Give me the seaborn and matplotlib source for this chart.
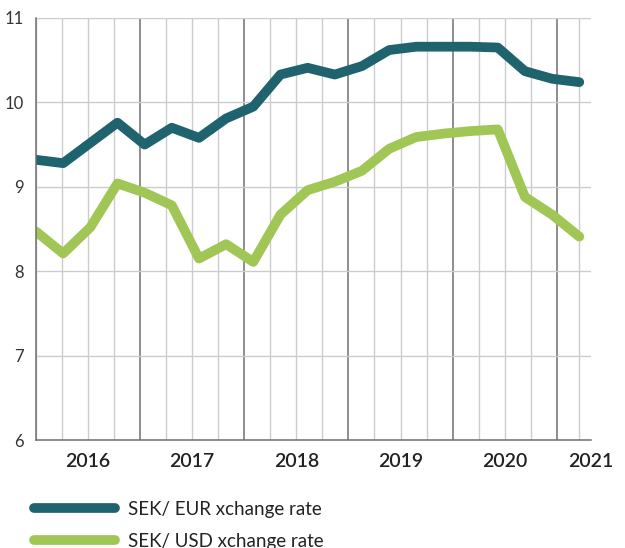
import matplotlib
matplotlib.use("Agg")
import matplotlib.pyplot as plt
import seaborn as sns
import pandas as pd
import numpy as np

sek_eur = [9.32, 9.28, 9.52, 9.76, 9.50, 9.70, 9.58, 9.81, 9.95, 10.33, 10.41,
           10.33, 10.43, 10.62, 10.66, 10.66, 10.66, 10.65, 10.37, 10.28, 10.24]
sek_usd = [8.47, 8.21, 8.52, 9.04, 8.93, 8.78, 8.15, 8.32, 8.11, 8.67, 8.96,
           9.06, 9.19, 9.45, 9.59, 9.63, 9.66, 9.68, 8.88, 8.67, 8.41]
series_names = ["SEK/ EUR xchange rate", "SEK/ USD xchange rate"]
year_labels = ["2016", "2017", "2018", "2019", "2020", "2021"]
y_ticks = [6, 7, 8, 9, 10, 11]

colors = ["#1F636E", "#A0C655"]

sns.set_theme(style="white")
plt.rcParams["font.family"] = ["Lato", "DejaVu Sans"]

n = len(sek_eur)
obs = list(range(n))
df = pd.DataFrame({
    "obs": obs * 2,
    "rate": sek_eur + sek_usd,
    "series": [series_names[0]] * n + [series_names[1]] * n,
})

fig = plt.figure(figsize=(6.25, 5.48), dpi=100)
ax = fig.add_axes([36 / 625, 1 - 440 / 548, (591 - 36) / 625, (440 - 18) / 548])

# grid: quarter spacing differs slightly from observation spacing in the reference
px_per_obs = (591 - 36) / (n - 1)
q = 26.6 / px_per_obs
for k in range(21):
    xv = k * q
    dark = (k % 4 == 0 and k > 0)
    ax.axvline(xv, color="#6f6f6f" if dark else "#cccccc", lw=1.1 if dark else 1.0, zorder=0)
ax.axvline(n - 1, color="#cccccc", lw=1.0, zorder=0)
for yv in y_ticks[1:]:
    ax.axhline(yv, color="#cccccc", lw=1.0, zorder=0)

sns.lineplot(data=df, x="obs", y="rate", hue="series", palette=colors,
             linewidth=7, ax=ax, legend=True, sort=False)

ax.set_xlim(0, n - 1)
ax.set_ylim(6, 11)
ax.set_yticks(y_ticks)
ax.set_yticklabels([str(t) for t in y_ticks], fontsize=12, color="#333333")
year_pos = [(2 + 4 * i) * q for i in range(5)] + [(603 - 36) / px_per_obs]
ax.set_xticks(year_pos)
ax.set_xticklabels(year_labels, fontsize=14, fontweight="semibold", color="#222222")
ax.tick_params(axis="x", length=0, pad=9.5)
ax.tick_params(axis="y", length=0, pad=9)
for lab in ax.get_xticklabels():
    lab.set_clip_on(False)
ax.set_xlabel("")
ax.set_ylabel("")

for s in ["top", "right"]:
    ax.spines[s].set_visible(False)
ax.spines["left"].set_color("#6f6f6f")
ax.spines["bottom"].set_color("#6f6f6f")
ax.spines["left"].set_linewidth(1.1)
ax.spines["bottom"].set_linewidth(1.1)

handles, labels = ax.get_legend_handles_labels()
ax.legend_.remove()
leg = fig.legend(handles, labels, loc="upper left",
                 bbox_to_anchor=(34 / 625, 1 - 501 / 548), frameon=False,
                 fontsize=13.5, handlelength=4.3, handletextpad=0.7,
                 labelspacing=0.8, borderpad=0, borderaxespad=0)
for h in leg.legend_handles:
    h.set_linewidth(7)
    h.set_solid_capstyle("round")
for t in leg.get_texts():
    t.set_color("#222222")

fig.savefig("out.png", dpi=100)
